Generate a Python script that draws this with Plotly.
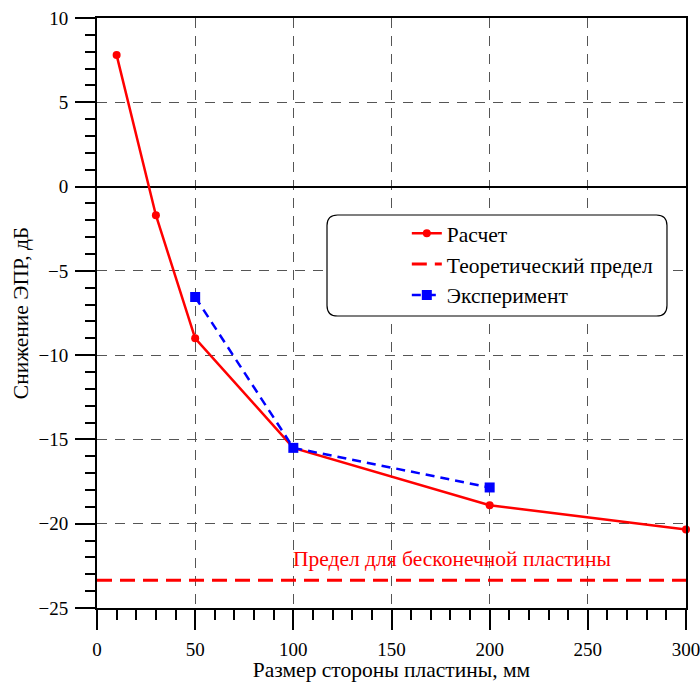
import plotly.graph_objects as go

# Calculated RCS reduction vs. plate side length
calc_x = [10, 30, 50, 100, 200, 300]
calc_y = [7.8, -1.7, -9.0, -15.5, -18.9, -20.35]

# Measured values
exp_x = [50, 100, 200]
exp_y = [-6.55, -15.5, -17.85]

# Theoretical limit for an infinite plate
limit_x = [0, 300]
limit_y = [-23.35, -23.35]

FONT = "Liberation Serif, Times New Roman, serif"
TEXT_SIZE = 21.5
TICK_SIZE = 19

fig = go.Figure()

fig.add_trace(go.Scatter(
    x=calc_x, y=calc_y, mode="lines+markers", name="Расчет",
    line=dict(color="#ff0000", width=2.5),
    marker=dict(color="#ff0000", size=8, symbol="circle"),
    cliponaxis=False,
))
fig.add_trace(go.Scatter(
    x=limit_x, y=limit_y, mode="lines", name="Теоретический предел",
    line=dict(color="#ff0000", width=3, dash="15px,8px"),
))
fig.add_trace(go.Scatter(
    x=exp_x, y=exp_y, mode="lines+markers", name="Эксперимент",
    line=dict(color="#0000ff", width=2.5, dash="9px,6px"),
    marker=dict(color="#0000ff", size=10, symbol="square"),
))

fig.add_annotation(
    x=181, y=-22.1, xref="x", yref="y", showarrow=False,
    text="Предел для бесконечной пластины",
    font=dict(family=FONT, size=TEXT_SIZE, color="#ff0000"),
)

# Rounded frame around the legend (paper coordinates)
x0, x1 = 0.3905, 0.9677
y0, y1 = 0.4949, 0.6661
rx, ry = 0.018, 0.018
path = (
    f"M {x0+rx},{y1} L {x1-rx},{y1} Q {x1},{y1} {x1},{y1-ry} "
    f"L {x1},{y0+ry} Q {x1},{y0} {x1-rx},{y0} "
    f"L {x0+rx},{y0} Q {x0},{y0} {x0},{y0+ry} "
    f"L {x0},{y1-ry} Q {x0},{y1} {x0+rx},{y1} Z"
)
fig.add_shape(type="path", path=path, xref="paper", yref="paper",
              line=dict(color="black", width=1.2), fillcolor="white",
              layer="above")

axis_common = dict(
    showline=True, linecolor="black", linewidth=2, mirror=True,
    ticks="outside", ticklen=20, tickwidth=1.5, tickcolor="black",
    showgrid=True, gridcolor="#555555", gridwidth=1, griddash="10px,8px",
    tickfont=dict(family=FONT, size=TICK_SIZE, color="black"),
    automargin=False, ticklabeloverflow="allow",
)

fig.update_xaxes(
    range=[0, 300], tickvals=[0, 50, 100, 150, 200, 250, 300],
    minor=dict(dtick=10, tick0=0, ticks="outside", ticklen=10,
               tickwidth=1.5, tickcolor="black", showgrid=False),
    zeroline=False, ticklabelstandoff=3,
    title=dict(text="Размер стороны пластины, мм",
               font=dict(family=FONT, size=TEXT_SIZE, color="black"),
               standoff=7),
    **axis_common,
)
fig.update_yaxes(
    range=[-25, 10], tickvals=[-25, -20, -15, -10, -5, 0, 5, 10],
    minor=dict(dtick=1, tick0=0, ticks="outside", ticklen=10,
               tickwidth=1.5, tickcolor="black", showgrid=False),
    zeroline=True, zerolinecolor="black", zerolinewidth=1.5,
    ticklabelstandoff=3,
    title=dict(text="Снижение ЭПР, дБ",
               font=dict(family=FONT, size=TEXT_SIZE, color="black"),
               standoff=4),
    **axis_common,
)

fig.update_layout(
    width=700, height=682,
    margin=dict(l=97, r=14, t=18, b=74),
    paper_bgcolor="white", plot_bgcolor="white",
    showlegend=True,
    legend=dict(
        x=0.526, y=0.670, xanchor="left", yanchor="top",
        bgcolor="rgba(0,0,0,0)", borderwidth=0,
        font=dict(family=FONT, size=TEXT_SIZE, color="black"),
        tracegroupgap=0,
    ),
    font=dict(family=FONT),
)

fig.write_html("out.html")
